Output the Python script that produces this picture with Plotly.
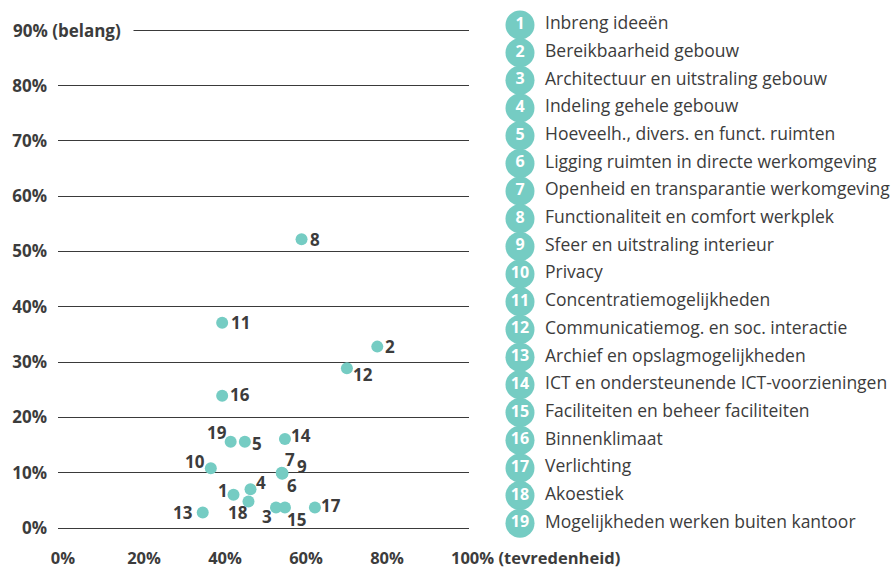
import plotly.graph_objects as go

# ---------------- data ----------------
ids = list(range(1, 20))
names = [
    "Inbreng ideeën",
    "Bereikbaarheid gebouw",
    "Architectuur en uitstraling gebouw",
    "Indeling gehele gebouw",
    "Hoeveelh., divers. en funct. ruimten",
    "Ligging ruimten in directe werkomgeving",
    "Openheid en transparantie werkomgeving",
    "Functionaliteit en comfort werkplek",
    "Sfeer en uitstraling interieur",
    "Privacy",
    "Concentratiemogelijkheden",
    "Communicatiemog. en soc. interactie",
    "Archief en opslagmogelijkheden",
    "ICT en ondersteunende ICT-voorzieningen",
    "Faciliteiten en beheer faciliteiten",
    "Binnenklimaat",
    "Verlichting",
    "Akoestiek",
    "Mogelijkheden werken buiten kantoor",
]
# tevredenheid (x, %) and belang (y, %)
satisfaction = [42.1, 77.6, 52.6, 46.3, 44.9, 54.1, 54.0, 58.9, 54.2, 36.5,
                39.3, 70.1, 34.5, 54.8, 54.8, 39.3, 62.2, 45.8, 41.4]
importance = [6.0, 32.8, 3.7, 7.0, 15.6, 9.8, 10.0, 52.2, 9.9, 10.8,
              37.1, 28.9, 2.8, 16.1, 3.7, 23.9, 3.7, 4.8, 15.6]

x_ticks = [0, 20, 40, 60, 80]
x_ticktext = ["0%", "20%", "40%", "60%", "80%"]
y_ticks = [0, 10, 20, 30, 40, 50, 60, 70, 80, 90]
y_ticktext = ["0%", "10%", "20%", "30%", "40%", "50%", "60%", "70%", "80%", ""]
y_top_label = "90% (belang)"
x_end_label = "100% (tevredenheid)"

# label offsets (style): pixel shifts of number labels from their dots (dx right, dy down)
label_dx = [-10.7, 12.7, -9.3, 10.3, 11.7, 10.3, 8.3, 13.3, 19.3, -15.7,
            18.0, 16.0, -19.3, 15.7, 11.7, 17.7, 16.3, -10.7, -13.3]
label_dy = [-4.0, 0.0, 9.3, -6.3, 1.7, 11.7, -13.3, 0.0, -6.7, -7.0,
            0.0, 6.7, 0.0, -3.3, 12.0, -1.0, -1.7, 11.0, -9.0]

# ---------------- style ----------------
TEAL = "#75CCC3"
TXT = "#3c3c3c"
FONT = "Open Sans"
W, H = 895, 568

fig = go.Figure()

fig.add_trace(go.Scatter(
    x=satisfaction, y=importance, mode="markers",
    marker=dict(size=12, color=TEAL, line=dict(width=0)),
    cliponaxis=False, hoverinfo="skip", showlegend=False,
))

annotations = []
for i, (sx, iy) in enumerate(zip(satisfaction, importance)):
    annotations.append(dict(
        x=sx, y=iy, xref="x", yref="y", text=str(ids[i]), showarrow=False,
        xanchor="center", yanchor="middle",
        xshift=label_dx[i], yshift=-label_dy[i],
        font=dict(family=FONT, size=17, color=TXT, weight="bold"),
    ))

# top y label with white box masking the gridline start
annotations.append(dict(
    x=10 / W, xref="paper", y=90, yref="y", text=y_top_label, showarrow=False,
    xanchor="left", yanchor="middle", align="left", width=118,
    bgcolor="white", borderpad=2,
    font=dict(family=FONT, size=17, color=TXT, weight="bold"),
))
annotations.append(dict(
    x=100, xref="x", y=(H - 557) / H, yref="paper", text=x_end_label,
    showarrow=False, xanchor="left", yanchor="middle", xshift=-19,
    font=dict(family=FONT, size=16.5, color=TXT, weight="bold"),
))

# legend badges + texts
fig.add_trace(go.Scatter(
    x=[0] * len(ids), y=ids, mode="markers+text", xaxis="x2", yaxis="y2",
    marker=dict(size=29, color=TEAL, line=dict(width=0)),
    text=[str(i) for i in ids], textposition="middle center",
    textfont=dict(family=FONT, size=16, color="white", weight="bold"),
    cliponaxis=False, hoverinfo="skip", showlegend=False,
))
fig.add_trace(go.Scatter(
    x=[1] * len(ids), y=ids, mode="text", xaxis="x2", yaxis="y2",
    text=names, textposition="middle right",
    textfont=dict(family=FONT, size=17.5, color=TXT),
    cliponaxis=False, hoverinfo="skip", showlegend=False,
))

px_per_x = 4.05
x0_px = 63
px_per_y = 5.53
y0_px = 528
y_bottom_px = 546

fig.update_layout(
    template="none",
    width=W, height=H,
    margin=dict(l=0, r=0, t=0, b=0, pad=0),
    paper_bgcolor="white", plot_bgcolor="rgba(0,0,0,0)",
    xaxis=dict(
        domain=[58 / W, 469 / W],
        range=[(58 - x0_px) / px_per_x, (469 - x0_px) / px_per_x],
        tickvals=x_ticks, ticktext=x_ticktext,
        showgrid=False, zeroline=False, showline=False, ticks="",
        ticklabelstandoff=0, automargin=False,
        tickfont=dict(family=FONT, size=16.5, color=TXT, weight="bold"),
        anchor="y", fixedrange=True,
    ),
    yaxis=dict(
        domain=[(H - y_bottom_px) / H, 1],
        range=[(y0_px - y_bottom_px) / px_per_y, y0_px / px_per_y],
        tickvals=y_ticks, ticktext=y_ticktext,
        showgrid=True, gridcolor="#3a3a3a", gridwidth=1.3,
        zeroline=False, showline=False, ticks="",
        ticklabelstandoff=10, automargin=False,
        tickfont=dict(family=FONT, size=17, color=TXT, weight="bold"),
        anchor="x", fixedrange=True,
    ),
    xaxis2=dict(
        domain=[0.55, 1], range=[-(520 - 0.55 * W) / 25, (W - 520) / 25],
        visible=False, anchor="y2", fixedrange=True, automargin=False,
    ),
    yaxis2=dict(
        domain=[0, 1], range=[1 + (H - 25) / 27.68, 1 - 25 / 27.68],
        visible=False, anchor="x2", fixedrange=True, automargin=False,
    ),
    annotations=annotations,
    showlegend=False,
)

fig.write_html(
    "out.html",
    config={"displayModeBar": False},
    post_script="document.body.style.margin='0';document.body.style.overflow='hidden';",
)
